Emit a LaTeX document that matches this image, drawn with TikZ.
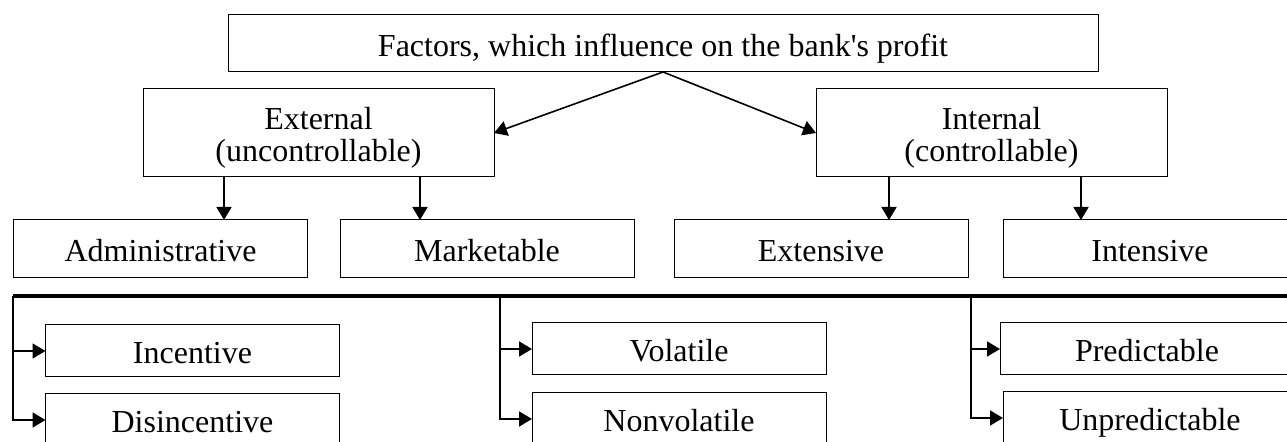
\documentclass[tikz,border=0pt]{standalone}
\usepackage{fontspec}
\setmainfont{Liberation Serif}
\usetikzlibrary{arrows.meta}

\begin{document}
\begin{tikzpicture}[x=0.5pt, y=-0.5pt,
  every node/.style={draw, line width=0.5pt, inner sep=0pt, outer sep=0pt, align=center, text height=13pt, text depth=0pt, font=\fontsize{16}{16}\selectfont},
  head/.style={minimum width=175.5pt, minimum height=44pt, text height=29pt},
  kind/.style={minimum width=147pt, minimum height=29pt},
  sort/.style={minimum width=147pt, minimum height=26pt},
  arr/.style={line width=0.8pt, -{Triangle[length=6.5pt, width=7.5pt]}},
  bus/.style={line width=1.75pt}]
\useasboundingbox (0,0) rectangle (1287,442);
\clip (0,0) rectangle (1287,442);

\node[minimum width=435pt, minimum height=28.5pt] (top) at (663,43.5) {Factors, which influence on the bank\textquotesingle s profit};
\node[head] (ext) at (318.5,133) {External\\(uncontrollable)};
\node[head] (int) at (991.5,133) {Internal\\(controllable)};

\node[kind] (adm) at (160.5,249) {Administrative};
\node[kind] (mkt) at (487,249) {Marketable};
\node[kind] (exs) at (821,249) {Extensive};
\node[kind] (ins) at (1150,249) {Intensive};

\node[sort] (inc) at (192.5,351) {Incentive};
\node[sort] (dis) at (192.5,420) {Disincentive};
\node[sort] (vol) at (679,349) {Volatile};
\node[sort] (nvo) at (679,419) {Nonvolatile};
\node[sort] (prd) at (1147,349) {Predictable};
\node[sort] (upr) at (1150,418) {Unpredictable};

\draw[arr] (top.south) -- (ext.east);
\draw[arr] (top.south) -- (int.west);
\draw[arr] (224,0 |- ext.south) -- (224,0 |- adm.north);
\draw[arr] (420,0 |- ext.south) -- (420,0 |- mkt.north);
\draw[arr] (889,0 |- int.south) -- (889,0 |- exs.north);
\draw[arr] (1081,0 |- int.south) -- (1081,0 |- ins.north);

\coordinate (b1) at (13,296);
\coordinate (b2) at (500,296);
\coordinate (b3) at (971,296);
\coordinate (b4) at (1300,296);
\draw[bus] (b1) -- (b4);
\draw[arr] (b1) |- (dis.west);
\draw[arr] (b1 |- inc.west) -- (inc.west);
\draw[arr] (b2) |- (nvo.west);
\draw[arr] (b2 |- vol.west) -- (vol.west);
\draw[arr] (b3) |- (upr.west);
\draw[arr] (b3 |- prd.west) -- (prd.west);
\end{tikzpicture}
\end{document}
